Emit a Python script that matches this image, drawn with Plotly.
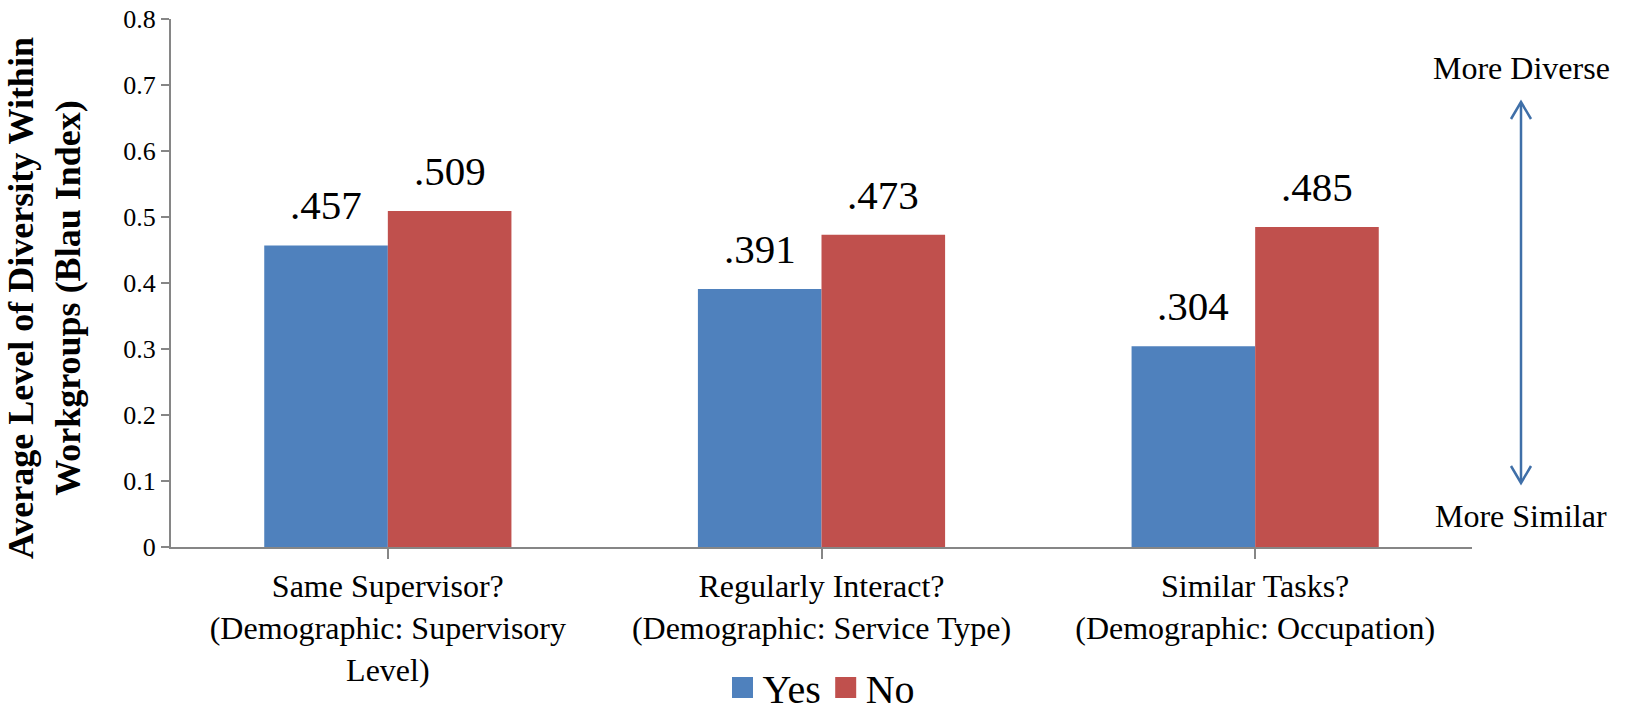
import plotly.graph_objects as go

categories = [
    "Same Supervisor?<br>(Demographic: Supervisory<br>Level)",
    "Regularly Interact?<br>(Demographic: Service Type)",
    "Similar Tasks?<br>(Demographic: Occupation)",
]
yes_values = [0.457, 0.391, 0.304]
no_values = [0.509, 0.473, 0.485]
yes_labels = [".457", ".391", ".304"]
no_labels = [".509", ".473", ".485"]
series_names = ["Yes", "No"]
y_ticks = [0, 0.1, 0.2, 0.3, 0.4, 0.5, 0.6, 0.7, 0.8]
y_title = "<b>Average Level of Diversity Within<br>Workgroups (Blau Index)</b>"

BLUE = "#4F81BD"
RED = "#C0504D"
ARROW = "#3F6FA8"
FONT = "Liberation Serif"
BARGAP = 0.43

# plot area in pixels (for paper-coordinate decorations)
L, R, T, B = 171, 1472, 19, 547
def px(x):
    return (x - L) / (R - L)
def py(y):
    return (B - y) / (B - T)

xs = list(range(len(categories)))
fig = go.Figure()
fig.add_trace(go.Bar(name=series_names[0], x=xs, y=yes_values, showlegend=False,
                     marker=dict(color=BLUE, line=dict(width=0))))
fig.add_trace(go.Bar(name=series_names[1], x=xs, y=no_values, showlegend=False,
                     marker=dict(color=RED, line=dict(width=0))))
# legend entries with larger square swatches
for name, col in ((series_names[0], BLUE), (series_names[1], RED)):
    fig.add_trace(go.Scatter(name=name, x=[None], y=[None], mode="markers",
                             marker=dict(symbol="square", size=16, color=col,
                                         line=dict(color=col, width=5))))

annotations = []
w = (1 - BARGAP) / 2
for i in xs:
    for val, lab, off in ((yes_values[i], yes_labels[i], -w / 2), (no_values[i], no_labels[i], w / 2)):
        annotations.append(dict(x=i + off, y=val, xref="x", yref="y", text=lab, showarrow=False,
                                xanchor="center", yanchor="bottom", yshift=15,
                                font=dict(family=FONT, size=41, color="black")))

ax_x = 1521
top_y, bot_y = 102, 483
shapes = [
    dict(type="line", xref="paper", yref="paper", x0=px(ax_x), x1=px(ax_x), y0=py(top_y + 1), y1=py(bot_y - 1),
         line=dict(color=ARROW, width=2.5)),
    dict(type="path", xref="paper", yref="paper",
         path=f"M{px(ax_x-10)},{py(top_y+17)} L{px(ax_x)},{py(top_y)} L{px(ax_x+10)},{py(top_y+17)}",
         line=dict(color=ARROW, width=2.5)),
    dict(type="path", xref="paper", yref="paper",
         path=f"M{px(ax_x-10)},{py(bot_y-17)} L{px(ax_x)},{py(bot_y)} L{px(ax_x+10)},{py(bot_y-17)}",
         line=dict(color=ARROW, width=2.5)),
]
annotations.append(dict(x=px(ax_x), y=py(68), xref="paper", yref="paper", text="More Diverse",
                        xanchor="center", yanchor="middle",
                        showarrow=False, font=dict(family=FONT, size=32, color="black")))
annotations.append(dict(x=px(ax_x), y=py(516), xref="paper", yref="paper", text="More Similar",
                        xanchor="center", yanchor="middle",
                        showarrow=False, font=dict(family=FONT, size=32, color="black")))
# y-axis title
annotations.append(dict(x=px(45), y=py(298), xref="paper", yref="paper", text=y_title,
                        textangle=-90, xanchor="center", yanchor="middle", showarrow=False,
                        font=dict(family=FONT, size=36, color="black")))

fig.update_layout(
    width=1625, height=721,
    margin=dict(l=L, r=1625 - R, t=T, b=721 - B, autoexpand=False),
    paper_bgcolor="white", plot_bgcolor="white",
    barmode="group", bargap=BARGAP, bargroupgap=0,
    showlegend=True,
    legend=dict(orientation="h", x=0.5, xanchor="center", y=py(720), yanchor="bottom",
                font=dict(family=FONT, size=40, color="black"), itemwidth=30),
    annotations=annotations,
    shapes=shapes,
    font=dict(family=FONT, color="black"),
)
fig.update_xaxes(
    tickmode="array", tickvals=xs, ticktext=categories,
    range=[-0.5, len(categories) - 0.5], automargin=False,
    showline=True, linecolor="#868686", linewidth=2,
    ticks="outside", ticklen=10, tickcolor="#868686", tickwidth=1.5, tickson="boundaries",
    showgrid=False, zeroline=False,
    tickfont=dict(family=FONT, size=32, color="black"),
)
fig.update_yaxes(
    range=[0, 0.8], tickvals=y_ticks, ticktext=[("%g" % v) for v in y_ticks],
    automargin=False,
    showline=True, linecolor="#868686", linewidth=2,
    ticks="outside", ticklen=8, tickcolor="#868686", tickwidth=1.5,
    showgrid=False, zeroline=False,
    tickfont=dict(family=FONT, size=26, color="black"),
)
fig.write_html("out.html")
